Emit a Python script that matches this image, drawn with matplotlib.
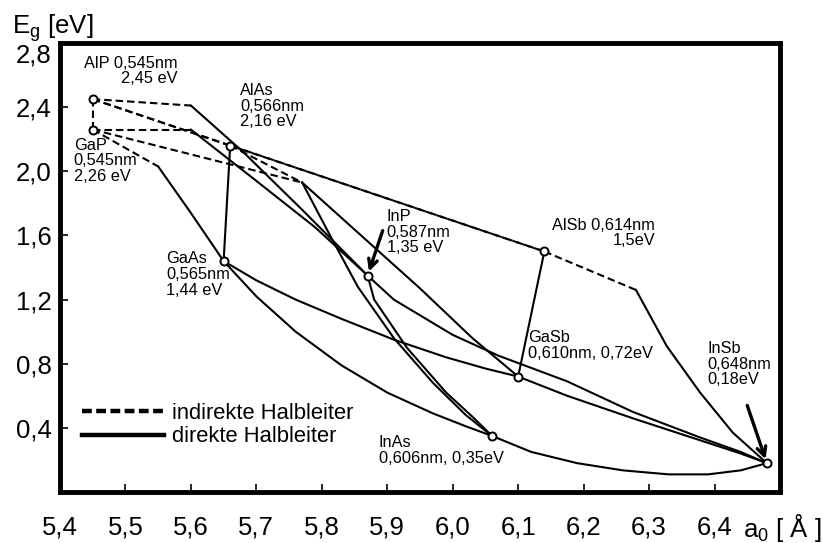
import matplotlib
matplotlib.use("Agg")
import matplotlib.pyplot as plt
from matplotlib.lines import Line2D
from matplotlib.transforms import ScaledTranslation

plt.rcParams['font.family'] = ['Liberation Sans', 'DejaVu Sans']

# binary III-V compounds: lattice constant [nm], band gap [eV]
names = ["AlP", "GaP", "AlAs", "GaAs", "InP", "AlSb", "GaSb", "InAs", "InSb"]
a_nm = [0.545, 0.545, 0.566, 0.565, 0.587, 0.614, 0.610, 0.606, 0.648]
eg = [2.45, 2.26, 2.16, 1.44, 1.35, 1.5, 0.72, 0.35, 0.18]

# ternary alloys with indirect->direct crossing: crossing point, then points on the direct branch
alinp_k = (5.60, 2.41);  alinp_a = [5.68, 5.77];  alinp_e = [2.12, 1.76]
gainp_k = (5.60, 2.26);  gainp_a = [5.70, 5.79];  gainp_e = [1.94, 1.65]
gaasp_k = (5.55, 2.03);  gaasp_a = [5.60];        gaasp_e = [1.74]
gapsb_k = (5.77, 1.93);  gapsb_a = [5.86, 5.95, 6.03];  gapsb_e = [1.60, 1.27, 0.96]
alinas_k = (5.77, 1.93)
alinas_a = [5.81, 5.855, 5.91, 5.97, 6.02]
alinas_e = [1.62, 1.28, 0.96, 0.68, 0.48]
alinsb_k = (6.28, 1.26)
alinsb_a = [6.327, 6.378, 6.428]
alinsb_e = [0.91, 0.62, 0.37]

# direct alloys (solid lines only), inner points
algaas_a = [];  algaas_e = []
gainas_a = [5.70, 5.76, 5.83, 5.90, 5.97, 6.02]
gainas_e = [1.22, 1.00, 0.79, 0.62, 0.49, 0.41]
gaassb_a = [5.70, 5.76, 5.83, 5.91, 5.99, 6.05]
gaassb_e = [1.32, 1.20, 1.08, 0.95, 0.84, 0.77]
inpas_a = [5.88, 5.93, 5.99, 6.03]
inpas_e = [1.20, 0.90, 0.62, 0.47]
inpsb_a = [5.91, 6.00, 6.07, 6.175, 6.275, 6.378, 6.44]
inpsb_e = [1.20, 0.98, 0.85, 0.69, 0.50, 0.34, 0.25]
algasb_a = [];  algasb_e = []
gainsb_a = [6.175, 6.275, 6.38, 6.44]
gainsb_e = [0.60, 0.46, 0.32, 0.24]
inassb_a = [6.12, 6.19, 6.26, 6.33, 6.39, 6.44]
inassb_e = [0.25, 0.18, 0.135, 0.11, 0.11, 0.135]

# fully indirect alloys (dashed)
dashed_pairs = [("AlP", "GaP"), ("AlP", "AlAs"), ("AlP", "AlSb"), ("AlAs", "AlSb")]

xticks = [5.4, 5.5, 5.6, 5.7, 5.8, 5.9, 6.0, 6.1, 6.2, 6.3, 6.4]
xlabels = ["5,4", "5,5", "5,6", "5,7", "5,8", "5,9", "6,0", "6,1", "6,2", "6,3", "6,4"]
yticks = [0.4, 0.8, 1.2, 1.6, 2.0, 2.4, 2.8]
ylabels = ["0,4", "0,8", "1,2", "1,6", "2,0", "2,4", "2,8"]

pt = {n: (10 * a, e) for n, a, e in zip(names, a_nm, eg)}

fig = plt.figure(figsize=(8.23, 5.43), dpi=100)
ax = fig.add_axes([0.0729, 0.0939, 0.8748, 0.8269])
ax.set_xlim(5.4, 6.5)
ax.set_ylim(0, 2.8)

lw = 1.5
dash = (0, (3.6, 1.9))

def solid(xs, ys):
    ax.plot(xs, ys, color="black", lw=lw, solid_joinstyle="round", zorder=2)

def dashed(p, q):
    ax.plot([p[0], q[0]], [p[1], q[1]], color="black", lw=lw, linestyle=dash, zorder=2)

for p, q in dashed_pairs:
    dashed(pt[p], pt[q])

for start, end, k, xa, ye in [
    ("AlP", "InP", alinp_k, alinp_a, alinp_e),
    ("GaP", "InP", gainp_k, gainp_a, gainp_e),
    ("GaP", "GaAs", gaasp_k, gaasp_a, gaasp_e),
    ("GaP", "GaSb", gapsb_k, gapsb_a, gapsb_e),
    ("AlAs", "InAs", alinas_k, alinas_a, alinas_e),
    ("AlSb", "InSb", alinsb_k, alinsb_a, alinsb_e),
]:
    dashed(pt[start], k)
    solid([k[0]] + xa + [pt[end][0]], [k[1]] + ye + [pt[end][1]])

for start, end, xa, ye in [
    ("AlAs", "GaAs", algaas_a, algaas_e),
    ("GaAs", "InAs", gainas_a, gainas_e),
    ("GaAs", "GaSb", gaassb_a, gaassb_e),
    ("InP", "InAs", inpas_a, inpas_e),
    ("InP", "InSb", inpsb_a, inpsb_e),
    ("AlSb", "GaSb", algasb_a, algasb_e),
    ("GaSb", "InSb", gainsb_a, gainsb_e),
    ("InAs", "InSb", inassb_a, inassb_e),
]:
    solid([pt[start][0]] + xa + [pt[end][0]], [pt[start][1]] + ye + [pt[end][1]])

ax.plot([pt[n][0] for n in names], [pt[n][1] for n in names], "o", ms=5.8,
        mfc="white", mec="black", mew=1.4, ls="none", zorder=4)

# labels of the binaries
fs = 11.8
kw = dict(fontsize=fs, linespacing=1.05, va="top")
ax.text(5.579, 2.72, "AlP 0,545nm\n2,45 eV", ha="right", **kw)
ax.text(5.675, 2.55, "AlAs\n0,566nm\n2,16 eV", ha="left", **kw)
ax.text(5.421, 2.21, "GaP\n0,545nm\n2,26 eV", ha="left", **kw)
ax.text(5.562, 1.50, "GaAs\n0,565nm\n1,44 eV", ha="left", **kw)
ax.text(5.899, 1.765, "InP\n0,587nm\n1,35 eV", ha="left", **kw)
ax.text(6.309, 1.71, "AlSb 0,614nm\n1,5eV", ha="right", **kw)
ax.text(6.115, 1.01, "GaSb\n0,610nm, 0,72eV", ha="left", **kw)
ax.text(5.887, 0.355, "InAs\n0,606nm, 0,35eV", ha="left", **kw)
ax.text(6.389, 0.94, "InSb\n0,648nm\n0,18eV", ha="left", **kw)

arrow = dict(arrowstyle="->", lw=2.4, color="black", mutation_scale=16, shrinkA=0, shrinkB=3)
ax.annotate("", xy=pt["InP"], xytext=(5.893, 1.63), arrowprops=arrow)
ax.annotate("", xy=pt["InSb"], xytext=(6.45, 0.54), arrowprops=arrow)

# legend
handles = [Line2D([], [], color="black", lw=3.2, linestyle=(0, (2.2, 1.0))),
           Line2D([], [], color="black", lw=3.2)]
ax.legend(handles, ["indirekte Halbleiter", "direkte Halbleiter"], loc="lower left",
          bbox_to_anchor=(0.016, 0.075), frameon=False, fontsize=15.8,
          handlelength=3.7, handletextpad=0.4, labelspacing=0.12, borderpad=0)

# axes frame and ticks
for s in ax.spines.values():
    s.set_linewidth(3.5)
ax.set_xticks(xticks)
ax.set_xticklabels(xlabels)
ax.set_yticks(yticks)
ax.set_yticklabels(ylabels)
ax.tick_params(direction="in", length=6, width=1.2, labelsize=18.5)
ax.tick_params(axis="x", pad=17)
ax.tick_params(axis="y", pad=6)
ax.xaxis.get_major_ticks()[0].tick1line.set_visible(False)
ax.yaxis.get_major_ticks()[-1].tick1line.set_visible(False)
top_label = ax.get_yticklabels()[-1]
top_label.set_transform(top_label.get_transform() + ScaledTranslation(0, -7 / 72, fig.dpi_scale_trans))

fig.text(12 / 823, 1 - 33 / 543, r"E$_\mathregular{g}$ [eV]", fontsize=18.5, va="baseline")
fig.text(743 / 823, 1 - 537 / 543, r"a$_\mathregular{0}$ [ Å ]", fontsize=18.5, va="baseline")

fig.savefig("out.png", dpi=100)
